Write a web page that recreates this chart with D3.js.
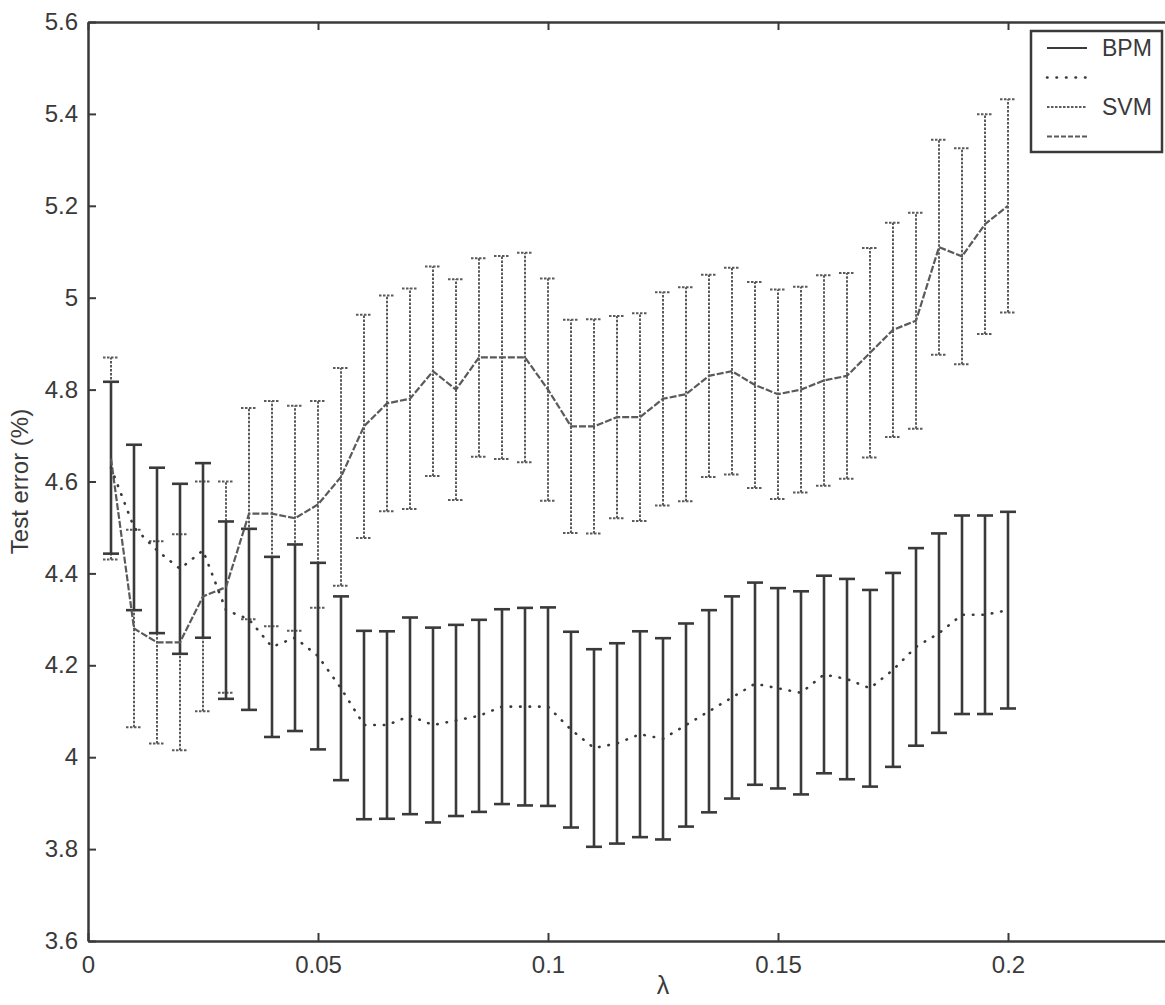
<!DOCTYPE html>
<html>
<head>
<meta charset="utf-8">
<script src="https://cdn.jsdelivr.net/npm/d3@7"></script>
<style>
body{margin:0;background:#fff}
svg{display:block}
text{font-family:"Liberation Sans",Arial,sans-serif;fill:#3a3a3a}
</style>
</head>
<body>
<div class="let"></div>
<script>
let lambda=[0.005,0.01,0.015,0.02,0.025,0.03,0.035,0.04,0.045,0.05,0.055,0.06,0.065,0.07,0.075,0.08,0.085,0.09,0.095,0.1,
  0.105,0.11,0.115,0.12,0.125,0.13,0.135,0.14,0.145,0.15,0.155,0.16,0.165,0.17,0.175,0.18,0.185,0.19,0.195,0.2]
// lower curve (solid error bars)
let bpmMean=[4.63,4.50,4.45,4.41,4.45,4.32,4.30,4.24,4.26,4.22,4.15,4.07,4.07,4.09,4.07,4.08,4.09,4.11,4.11,4.11,
  4.06,4.02,4.03,4.05,4.04,4.07,4.10,4.13,4.16,4.15,4.14,4.18,4.17,4.15,4.19,4.24,4.27,4.31,4.31,4.32]
let bpmErr=[0.187,0.18,0.18,0.185,0.19,0.193,0.197,0.196,0.203,0.203,0.20,0.205,0.204,0.214,0.212,0.208,0.209,0.212,0.215,0.216,
  0.213,0.215,0.218,0.224,0.219,0.221,0.22,0.22,0.22,0.218,0.221,0.215,0.218,0.214,0.211,0.215,0.217,0.216,0.216,0.214]
// upper curve (dotted error bars)
let svmMean=[4.65,4.28,4.25,4.25,4.35,4.37,4.53,4.53,4.52,4.55,4.61,4.72,4.77,4.78,4.84,4.80,4.87,4.87,4.87,4.80,
  4.72,4.72,4.74,4.74,4.78,4.79,4.83,4.84,4.81,4.79,4.80,4.82,4.83,4.88,4.93,4.95,5.11,5.09,5.16,5.20]
let svmErr=[0.22,0.215,0.22,0.235,0.25,0.23,0.23,0.245,0.245,0.225,0.237,0.243,0.235,0.24,0.228,0.24,0.216,0.221,0.228,0.242,
  0.232,0.233,0.22,0.226,0.232,0.233,0.22,0.225,0.224,0.228,0.224,0.229,0.224,0.228,0.233,0.235,0.234,0.235,0.239,0.232]
let xTicks=[0,0.05,0.1,0.15,0.2]
let yTicks=[3.6,3.8,4,4.2,4.4,4.6,4.8,5,5.2,5.4,5.6]
let legendLabels=['BPM','','SVM','']

let w=1165, h=1005
let padL=88, padT=22, padB=941, padR=1238
let ink='#3a3a3a', grey='#5a5a5a'
let capW=16

let xScale=d3.scaleLinear().domain([0,0.25]).range([padL,padR])
let yScale=d3.scaleLinear().domain([3.6,5.6]).range([padB,padT])
let fmt=d=>String(+d.toFixed(2))

let svg=d3.select('.let').append('svg').attr('width',w).attr('height',h)

let xAxis=d3.axisBottom(xScale).tickValues(xTicks).tickFormat(fmt).tickSizeInner(-8).tickSizeOuter(0).tickPadding(15)
let yAxis=d3.axisLeft(yScale).tickValues(yTicks).tickFormat(fmt).tickSizeInner(-8).tickSizeOuter(0).tickPadding(10)
let topAxis=d3.axisTop(xScale).tickValues(xTicks).tickFormat('').tickSizeInner(-8).tickSizeOuter(0)

svg.append('g').attr('transform','translate(0,'+padB+')').attr('class','axis').call(xAxis)
svg.append('g').attr('transform','translate('+padL+',0)').attr('class','axis').call(yAxis)
svg.append('g').attr('transform','translate(0,'+padT+')').attr('class','axis').call(topAxis)
svg.selectAll('.axis path').attr('stroke',ink).attr('stroke-width',2.5)
svg.selectAll('.axis line').attr('stroke',ink).attr('stroke-width',2)
svg.selectAll('.axis text').attr('font-size',24).attr('fill',ink).style('font-family','"Liberation Sans",Arial,sans-serif')

svg.append('text').text('Test error (%)').attr('font-size',24)
  .attr('text-anchor','middle').attr('transform','translate(28,'+((padT+padB)/2)+') rotate(-90)')
svg.append('text').text('λ').attr('font-size',25).attr('text-anchor','middle').attr('x',663).attr('y',994)

function errorBars(mean,err,cls,color,width,dash){
  let g=svg.append('g').attr('class',cls)
  let bars=g.selectAll('g').data(lambda).enter().append('g')
  bars.append('line').attr('x1',d=>xScale(d)).attr('x2',d=>xScale(d))
    .attr('y1',(d,i)=>yScale(mean[i]-err[i])).attr('y2',(d,i)=>yScale(mean[i]+err[i]))
  bars.append('line').attr('x1',d=>xScale(d)-capW/2).attr('x2',d=>xScale(d)+capW/2)
    .attr('y1',(d,i)=>yScale(mean[i]+err[i])).attr('y2',(d,i)=>yScale(mean[i]+err[i]))
  bars.append('line').attr('x1',d=>xScale(d)-capW/2).attr('x2',d=>xScale(d)+capW/2)
    .attr('y1',(d,i)=>yScale(mean[i]-err[i])).attr('y2',(d,i)=>yScale(mean[i]-err[i]))
  g.selectAll('line').attr('stroke',color).attr('stroke-width',width).attr('stroke-dasharray',dash)
}

errorBars(svmMean,svmErr,'svm-bars',grey,2,'2.5,1.5')
errorBars(bpmMean,bpmErr,'bpm-bars',ink,2.6,null)

let line=d3.line().x(d=>xScale(d[0])).y(d=>yScale(d[1]))
svg.append('path').datum(lambda.map((d,i)=>[d,svmMean[i]])).attr('d',line)
  .attr('fill','none').attr('stroke',grey).attr('stroke-width',2.2).attr('stroke-dasharray','7,2')
svg.append('path').datum(lambda.map((d,i)=>[d,bpmMean[i]])).attr('d',line)
  .attr('fill','none').attr('stroke',ink).attr('stroke-width',2.6).attr('stroke-linecap','round').attr('stroke-dasharray','0.5,9')

// legend
let legend=svg.append('g').attr('transform','translate(1031,31)')
legend.append('rect').attr('width',131).attr('height',121).attr('fill','#fff').attr('stroke',ink).attr('stroke-width',2.5)
let legendDash=[null,'0.5,9','2.5,1.5','5,2']
let legendColor=[ink,ink,grey,grey]
let legendRows=legend.selectAll('.row').data(legendLabels).enter().append('g').attr('class','row')
  .attr('transform',(d,i)=>'translate(0,'+(17+i*29.5)+')')
legendRows.append('line').attr('x1',16).attr('x2',56).attr('y1',0).attr('y2',0)
  .attr('stroke',(d,i)=>legendColor[i]).attr('stroke-width',(d,i)=>i==1?2.6:2)
  .attr('stroke-linecap',(d,i)=>i==1?'round':'butt').attr('stroke-dasharray',(d,i)=>legendDash[i])
legendRows.append('text').text(d=>d).attr('x',71).attr('y',8).attr('font-size',23)
</script>
</body>
</html>
